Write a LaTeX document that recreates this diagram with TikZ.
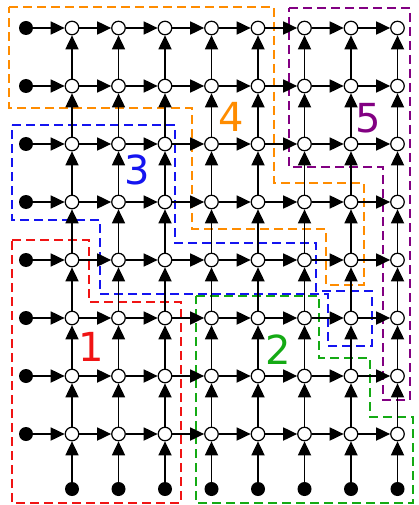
\documentclass[tikz,border=0pt]{standalone}
\usepackage{fontspec}
\setsansfont{DejaVu Sans}
\usetikzlibrary{arrows.meta}
\definecolor{regred}{RGB}{240,20,20}
\definecolor{reggreen}{RGB}{20,170,20}
\definecolor{regblue}{RGB}{20,20,240}
\definecolor{regorange}{RGB}{255,140,0}
\definecolor{regpurple}{RGB}{130,0,130}
\tikzset{
  cell/.style = {draw, circle, fill=white, line width=1.2pt, inner sep=0pt, minimum size=13.5pt},
  src/.style = {circle, fill=black, inner sep=0pt, minimum size=14pt},
  flow/.style = {line width=1.8pt, -{Triangle[length=14pt,width=13pt]}},
  region/.style = {line width=2.8pt, dash pattern=on 9pt off 5pt},
  tag/.style = {font=\sffamily\fontsize{40}{40}\selectfont}
}
\begin{document}
\begin{tikzpicture}[x=1pt, y=-1pt]
\useasboundingbox (0,0) rectangle (418,505);
% regions
\draw[region, regred] (12,240) -- (89,240) -- (89,302) -- (181,302) -- (181,503) -- (12,503) -- cycle;
\draw[region, reggreen] (196,296) -- (319,296) -- (319,358) -- (370,358) -- (370,417) -- (413,417) -- (413,503) -- (196,503) -- cycle;
\draw[region, regblue] (12,125) -- (175,125) -- (175,243) -- (316,243) -- (316,291) -- (372,291) -- (372,346) -- (328,346) -- (328,294) -- (100,294) -- (100,220) -- (12,220) -- cycle;
\draw[region, regorange] (9,7) -- (274,7) -- (274,183) -- (364,183) -- (364,285) -- (326,285) -- (326,229) -- (192,229) -- (192,108) -- (9,108) -- cycle;
\draw[region, regpurple] (289,8) -- (410,8) -- (410,400) -- (383,400) -- (383,167) -- (289,167) -- cycle;
% lattice
\foreach \i in {1,...,8} {
  \foreach \j in {1,...,8}
    \node[cell] (c-\i-\j) at ({72+46.5*(\i-1)}, {28+58*(\j-1)}) {};
  \node[src] (b-\i) at ({72+46.5*(\i-1)}, 489) {};
  \node[src] (l-\i) at (26, {28+58*(\i-1)}) {};
}
\foreach \j in {1,...,8} {
  \draw[flow] (l-\j) -- (c-1-\j);
  \foreach \i [evaluate=\i as \k using int(\i+1)] in {1,...,7}
    \draw[flow] (c-\i-\j) -- (c-\k-\j);
}
\foreach \i in {1,...,8} {
  \draw[flow] (b-\i) -- (c-\i-8);
  \foreach \j [evaluate=\j as \k using int(\j-1)] in {2,...,8}
    \draw[flow] (c-\i-\j) -- (c-\i-\k);
}
% labels
\node[tag, text=regred] (t1) at (91,347) {1};
\node[tag, text=reggreen] (t2) at (278,350) {2};
\node[tag, text=regblue] (t3) at (137,170) {3};
\node[tag, text=regorange] (t4) at (231,117) {4};
\node[tag, text=regpurple] (t5) at (368,118) {5};
\end{tikzpicture}
\end{document}
